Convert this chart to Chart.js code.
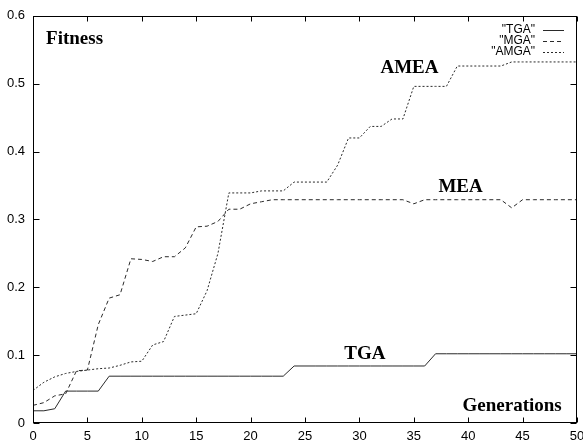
<!DOCTYPE html>
<html>
<head>
<meta charset="utf-8">
<script src="https://cdn.jsdelivr.net/npm/chart.js@4.4.1/dist/chart.umd.min.js"></script>
<style>
  html, body { margin: 0; padding: 0; background: #fff; }
  #c { display: block; }
</style>
</head>
<body>
<canvas id="c" width="583" height="446"></canvas>
<script>
const generations = [0, 1, 2, 3, 4, 5, 6, 7, 8, 9, 10, 11, 12, 13, 14, 15, 16, 17, 18, 19, 20,
  21, 22, 23, 24, 25, 26, 27, 28, 29, 30, 31, 32, 33, 34, 35, 36, 37, 38, 39, 40,
  41, 42, 43, 44, 45, 46, 47, 48, 49, 50];

const tga = [0.018, 0.018, 0.021, 0.047, 0.047, 0.047, 0.047,
  0.069, 0.069, 0.069, 0.069, 0.069, 0.069, 0.069, 0.069, 0.069, 0.069, 0.069, 0.069, 0.069, 0.069, 0.069, 0.069, 0.069,
  0.084, 0.084, 0.084, 0.084, 0.084, 0.084, 0.084, 0.084, 0.084, 0.084, 0.084, 0.084, 0.084,
  0.102, 0.102, 0.102, 0.102, 0.102, 0.102, 0.102, 0.102, 0.102, 0.102, 0.102, 0.102, 0.102, 0.102];

const mga = [0.026, 0.030, 0.040, 0.043, 0.077, 0.078, 0.145, 0.184, 0.189, 0.242, 0.241,
  0.238, 0.245, 0.245, 0.258, 0.289, 0.290, 0.297, 0.315, 0.315, 0.323, 0.326, 0.329,
  0.329, 0.329, 0.329, 0.329, 0.329, 0.329, 0.329, 0.329, 0.329, 0.329, 0.329, 0.329,
  0.323, 0.329, 0.329, 0.329, 0.329, 0.329, 0.329, 0.329, 0.329,
  0.317, 0.329, 0.329, 0.329, 0.329, 0.329, 0.329];

const amga = [0.048, 0.060, 0.068, 0.073, 0.076, 0.078, 0.080, 0.081, 0.085, 0.090, 0.091,
  0.115, 0.120, 0.157, 0.159, 0.161, 0.195, 0.250, 0.339, 0.339, 0.339,
  0.342, 0.342, 0.342, 0.355, 0.355, 0.355, 0.355, 0.380, 0.420, 0.420,
  0.437, 0.437, 0.448, 0.448, 0.496, 0.496, 0.496, 0.496, 0.526, 0.526,
  0.526, 0.526, 0.526, 0.532, 0.532, 0.532, 0.532, 0.532, 0.532, 0.532];

const xTicks = [0, 5, 10, 15, 20, 25, 30, 35, 40, 45, 50];
const yTicks = [0, 0.1, 0.2, 0.3, 0.4, 0.5, 0.6];

// text labels placed in data coordinates
const notes = [
  { text: 'Fitness', x: 1.2, y: 0.565, align: 'left' },
  { text: 'AMEA', x: 34.6, y: 0.523, align: 'center' },
  { text: 'MEA', x: 39.3, y: 0.347, align: 'center' },
  { text: 'TGA', x: 30.5, y: 0.101, align: 'center' },
  { text: 'Generations', x: 48.6, y: 0.025, align: 'right' }
];

const ink = '#2a2a2a';
const sans = '"Liberation Sans", Arial, sans-serif';
const toPoints = vals => vals.map((v, i) => ({ x: generations[i], y: v }));

// gnuplot-like frame with inward ticks on all four sides
const framePlugin = {
  id: 'frame',
  afterDatasetsDraw(chart) {
    const { ctx, chartArea: a, scales: { x, y } } = chart;
    ctx.save();
    ctx.strokeStyle = '#000';
    ctx.lineWidth = 1;
    ctx.setLineDash([]);
    const L = Math.round(a.left) + 0.5, R = Math.round(a.right) - 0.5;
    const T = Math.round(a.top) + 0.5, B = Math.round(a.bottom) - 0.5;
    ctx.strokeRect(L, T, R - L, B - T);
    ctx.beginPath();
    xTicks.forEach(v => {
      const px = Math.round(x.getPixelForValue(v)) + 0.5;
      ctx.moveTo(px, B); ctx.lineTo(px, B - 5);
      ctx.moveTo(px, T); ctx.lineTo(px, T + 5);
    });
    yTicks.forEach(v => {
      const py = Math.round(y.getPixelForValue(v)) + 0.5;
      ctx.moveTo(L, py); ctx.lineTo(L + 6, py);
      ctx.moveTo(R, py); ctx.lineTo(R - 6, py);
    });
    ctx.stroke();

    // annotations
    ctx.fillStyle = '#000';
    ctx.font = 'bold 19px "Liberation Serif", "DejaVu Serif", serif';
    ctx.textBaseline = 'middle';
    notes.forEach(n => {
      ctx.textAlign = n.align;
      ctx.fillText(n.text, x.getPixelForValue(n.x), y.getPixelForValue(n.y));
    });

    // legend: text right-aligned, line sample on the right
    ctx.font = '12px ' + sans;
    ctx.textAlign = 'right';
    chart.data.datasets.forEach((ds, i) => {
      const ry = 30 + i * 11;
      ctx.fillStyle = '#000';
      ctx.fillText(ds.label, 535, ry);
      ctx.beginPath();
      ctx.strokeStyle = ds.borderColor;
      ctx.setLineDash(ds.borderDash || []);
      ctx.moveTo(543, ry + 0.5);
      ctx.lineTo(564, ry + 0.5);
      ctx.stroke();
    });
    ctx.restore();
  }
};

new Chart(document.getElementById('c'), {
  type: 'line',
  data: {
    datasets: [
      { label: '"TGA"', data: toPoints(tga), borderColor: ink, borderWidth: 1, borderDash: [] },
      { label: '"MGA"', data: toPoints(mga), borderColor: ink, borderWidth: 1, borderDash: [4, 3] },
      { label: '"AMGA"', data: toPoints(amga), borderColor: ink, borderWidth: 1, borderDash: [2, 2] }
    ]
  },
  options: {
    responsive: false,
    animation: false,
    devicePixelRatio: 1,
    layout: { padding: { top: 12, right: 6, bottom: 0, left: 0 } },
    elements: { point: { radius: 0 }, line: { tension: 0 } },
    plugins: { legend: { display: false }, tooltip: { enabled: false } },
    scales: {
      x: {
        type: 'linear', min: 0, max: 50,
        afterBuildTicks: s => { s.ticks = xTicks.map(v => ({ value: v })); },
        afterFit: s => { s.height = 23; s.paddingRight = 0; s.paddingLeft = 0; },
        grid: { display: false, drawTicks: false },
        border: { display: false },
        ticks: { color: '#000', padding: 6, maxRotation: 0, font: { size: 13, family: sans } }
      },
      y: {
        min: 0, max: 0.6,
        afterBuildTicks: s => { s.ticks = yTicks.map(v => ({ value: v })); },
        afterFit: s => { s.width = 33; },
        grid: { display: false, drawTicks: false },
        border: { display: false },
        ticks: { color: '#000', padding: 8, font: { size: 13, family: sans },
          callback: v => (v === 0 ? '0' : v.toFixed(1)) }
      }
    }
  },
  plugins: [framePlugin]
});
</script>
</body>
</html>
